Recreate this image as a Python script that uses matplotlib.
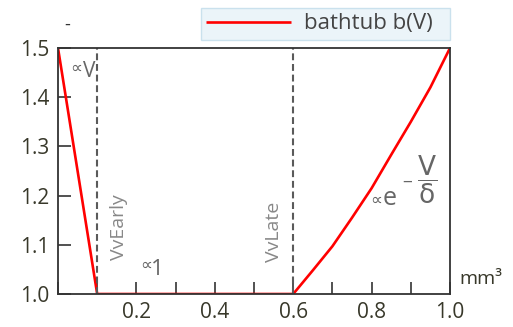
import numpy as np
import matplotlib.pyplot as plt
from matplotlib.ticker import MultipleLocator

plt.rcParams['font.family'] = ['Open Sans', 'DejaVu Sans']

# bathtub curve data
v_early = [0.0, 0.1]
b_early = [1.5, 1.0]
v_flat = [0.1, 0.6]
b_flat = [1.0, 1.0]
v_late = [0.6, 0.65, 0.7, 0.75, 0.8, 0.85, 0.9, 0.95, 1.0]
b_late = [1.0, 1.048, 1.097, 1.155, 1.215, 1.283, 1.35, 1.42, 1.5]
vv_early = 0.1
vv_late = 0.6

V = v_early + v_flat[1:] + v_late[1:]
B = b_early + b_flat[1:] + b_late[1:]

fig = plt.figure(figsize=(5.13, 3.27), dpi=100)
ax = fig.add_axes([58/513, 1-294/327, 392/513, 246/327])

ax.plot(V, B, color='red', lw=1.9, label='bathtub b(V)  ', solid_capstyle='butt')
ax.axvline(vv_early, color='#5a5a5a', lw=1.5, ls=(0, (3.3, 1.8)))
ax.axvline(vv_late, color='#5a5a5a', lw=1.5, ls=(0, (3.3, 1.8)))

ax.set_xlim(0, 1.0)
ax.set_ylim(1.0, 1.5)
ax.set_xticks([0.2, 0.4, 0.6, 0.8, 1.0])
ax.xaxis.set_minor_locator(MultipleLocator(0.1))
ax.set_yticks([1.0, 1.1, 1.2, 1.3, 1.4, 1.5])
ax.tick_params(direction='in', length=9, width=1.2, labelsize=15, pad=6,
               labelcolor='#38382a', color='#333333')
ax.tick_params(which='minor', direction='in', length=9, width=1.2, color='#333333')
for s in ax.spines.values():
    s.set_color('#333333')
    s.set_linewidth(1.3)

tc = '#666666'
sym = ['DejaVu Sans']
ax.text(0.03, 1.459, '∝', fontsize=12, color=tc, family=sym, va='center')
ax.text(0.064, 1.441, 'V', fontsize=15, color=tc, va='baseline')
ax.text(0.178, 1.069, 'VvEarly', rotation=90, fontsize=14, color='#888888',
        ha='right', va='bottom')
ax.text(0.574, 1.065, 'VvLate', rotation=90, fontsize=14, color='#888888',
        ha='right', va='bottom')
ax.text(0.209, 1.059, '∝', fontsize=12, color=tc, family=sym, va='center')
ax.text(0.238, 1.039, '1', fontsize=16, color=tc, va='baseline')
ax.text(0.796, 1.192, '∝', fontsize=12, color=tc, family=sym, va='center')
ax.text(0.827, 1.181, 'e', fontsize=18, color=tc, va='baseline')
ax.text(0.877, 1.228, '–', fontsize=14, color=tc, va='center')
ax.text(0.941, 1.232, r'$\dfrac{\mathsf{V}}{\mathsf{\delta}}$', fontsize=19, color=tc,
        ha='center', va='center')

fig.text(67/513, 1-25/327, '-', fontsize=13, color='#333333', ha='center', va='center')
fig.text(459/513, 1-279/327, 'mm³', fontsize=14, color='#38382a', ha='left', va='center')

leg = ax.legend(loc='lower right', fontsize=16,
                frameon=True, fancybox=False, borderaxespad=0, handlelength=3.8,
                borderpad=0.25, handletextpad=0.6, labelcolor='#444444')
leg.set_bbox_to_anchor((1.0, 1.0 + 8/246), transform=ax.transAxes)
leg.get_frame().set_facecolor('#e6f2f8')
leg.get_frame().set_edgecolor('#c0dcea')

fig.savefig('out.png', dpi=100)
